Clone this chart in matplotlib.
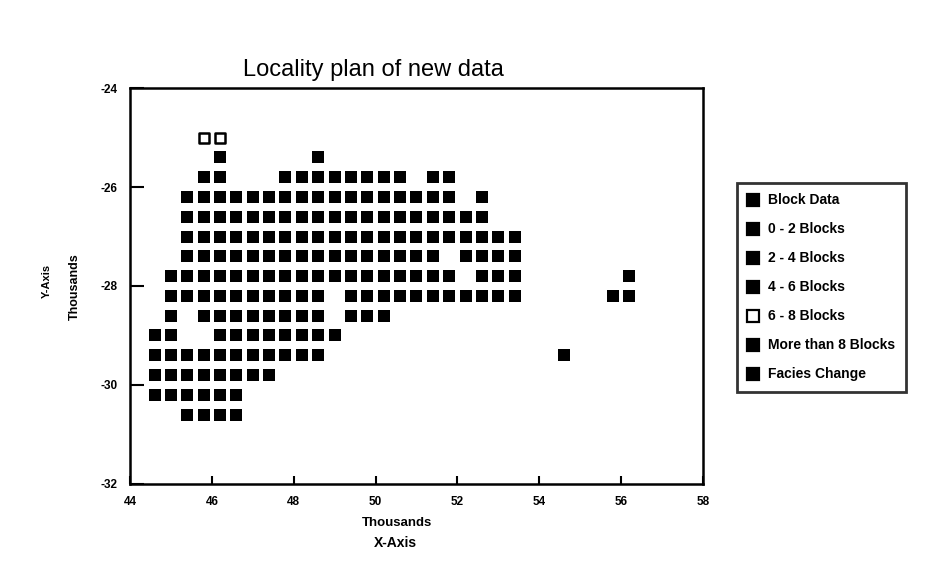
import matplotlib
matplotlib.use('Agg')
import matplotlib.pyplot as plt
from matplotlib.lines import Line2D

plt.rcParams['font.family'] = ['Liberation Sans', 'DejaVu Sans']

# ===== data (thousands) =====
# each row: one northing value and the eastings of the blocks on it
row_y = [-25.4, -25.8, -26.2, -26.6, -27.0, -27.4, -27.8, -28.2,
         -28.6, -29.0, -29.4, -29.8, -30.2, -30.6]
row_x = [
    [46.2, 48.6],
    [45.8, 46.2, 47.8, 48.2, 48.6, 49.0, 49.4, 49.8, 50.2, 50.6, 51.4, 51.8],
    [45.4, 45.8, 46.2, 46.6, 47.0, 47.4, 47.8, 48.2, 48.6, 49.0, 49.4, 49.8,
     50.2, 50.6, 51.0, 51.4, 51.8, 52.6],
    [45.4, 45.8, 46.2, 46.6, 47.0, 47.4, 47.8, 48.2, 48.6, 49.0, 49.4, 49.8,
     50.2, 50.6, 51.0, 51.4, 51.8, 52.2, 52.6],
    [45.4, 45.8, 46.2, 46.6, 47.0, 47.4, 47.8, 48.2, 48.6, 49.0, 49.4, 49.8,
     50.2, 50.6, 51.0, 51.4, 51.8, 52.2, 52.6, 53.0, 53.4],
    [45.4, 45.8, 46.2, 46.6, 47.0, 47.4, 47.8, 48.2, 48.6, 49.0, 49.4, 49.8,
     50.2, 50.6, 51.0, 51.4, 52.2, 52.6, 53.0, 53.4],
    [45.0, 45.4, 45.8, 46.2, 46.6, 47.0, 47.4, 47.8, 48.2, 48.6, 49.0, 49.4,
     49.8, 50.2, 50.6, 51.0, 51.4, 51.8, 52.6, 53.0, 53.4, 56.2],
    [45.0, 45.4, 45.8, 46.2, 46.6, 47.0, 47.4, 47.8, 48.2, 48.6, 49.4, 49.8,
     50.2, 50.6, 51.0, 51.4, 51.8, 52.2, 52.6, 53.0, 53.4, 55.8, 56.2],
    [45.0, 45.8, 46.2, 46.6, 47.0, 47.4, 47.8, 48.2, 48.6, 49.4, 49.8, 50.2],
    [44.6, 45.0, 46.2, 46.6, 47.0, 47.4, 47.8, 48.2, 48.6, 49.0],
    [44.6, 45.0, 45.4, 45.8, 46.2, 46.6, 47.0, 47.4, 47.8, 48.2, 48.6, 54.6],
    [44.6, 45.0, 45.4, 45.8, 46.2, 46.6, 47.0, 47.4],
    [44.6, 45.0, 45.4, 45.8, 46.2, 46.6],
    [45.4, 45.8, 46.2, 46.6],
]
# 6 - 8 blocks (open squares)
open_x = [45.8, 46.2]
open_y = [-25.0, -25.0]

legend_labels = ['Block Data', '0 - 2 Blocks', '2 - 4 Blocks', '4 - 6 Blocks',
                 '6 - 8 Blocks', 'More than 8 Blocks', 'Facies Change']
x_ticks = [44, 46, 48, 50, 52, 54, 56, 58]
y_ticks = [-32, -30, -28, -26, -24]

# ===== figure =====
fig = plt.figure(figsize=(9.36, 5.66), dpi=100)
ax = fig.add_axes([0.1389, 0.1449, 0.612, 0.6996])

bx, by = [], []
for yv, xs in zip(row_y, row_x):
    bx.extend(xs)
    by.extend([yv] * len(xs))
ax.scatter(bx, by, marker='s', s=75, c='black', linewidths=0)
ax.scatter(open_x, open_y, marker='s', s=62, facecolors='white',
           edgecolors='black', linewidths=1.8)

ax.set_xlim(44, 58)
ax.set_ylim(-32, -24)
ax.set_xticks(x_ticks)
ax.set_yticks(y_ticks)
ax.set_xticklabels([str(t) for t in x_ticks], fontsize=8.5, weight='bold')
ax.set_yticklabels([str(t) for t in y_ticks], fontsize=8.5, weight='bold')
ax.tick_params(axis='x', direction='in', length=6, width=1.5, pad=9)
ax.tick_params(axis='y', direction='in', length=10, width=1.5, pad=9)
for sp in ax.spines.values():
    sp.set_linewidth(1.8)

fig.text(373/936, 1 - 70/566, 'Locality plan of new data', fontsize=17,
         ha='center', va='center')
fig.text(397/936, 1 - 523/566, 'Thousands', fontsize=9.5, weight='bold',
         ha='center', va='center')
fig.text(395/936, 1 - 543/566, 'X-Axis', fontsize=10, weight='bold',
         ha='center', va='center')
fig.text(47/936, 1 - 281/566, 'Y-Axis', fontsize=8, weight='bold',
         rotation=90, ha='center', va='center')
fig.text(75/936, 1 - 287/566, 'Thousands', fontsize=9, weight='bold',
         rotation=90, ha='center', va='center')

# legend
handles = []
for lab in legend_labels:
    fc = 'white' if lab.startswith('6 - 8') else 'black'
    handles.append(Line2D([], [], linestyle='none', marker='s', markersize=8,
                          markerfacecolor=fc, markeredgecolor='black',
                          markeredgewidth=1.6, label=lab))
leg = fig.legend(handles=handles, loc='upper left',
                 bbox_to_anchor=(737/936, 1 - 183/566), frameon=True,
                 fancybox=False, edgecolor='black', borderpad=0.75,
                 labelspacing=1.08, handlelength=0.8, handletextpad=0.7,
                 borderaxespad=0, prop={'size': 10, 'weight': 'bold'})
leg.get_frame().set_linewidth(2.0)

fig.savefig('out.png', dpi=100)
